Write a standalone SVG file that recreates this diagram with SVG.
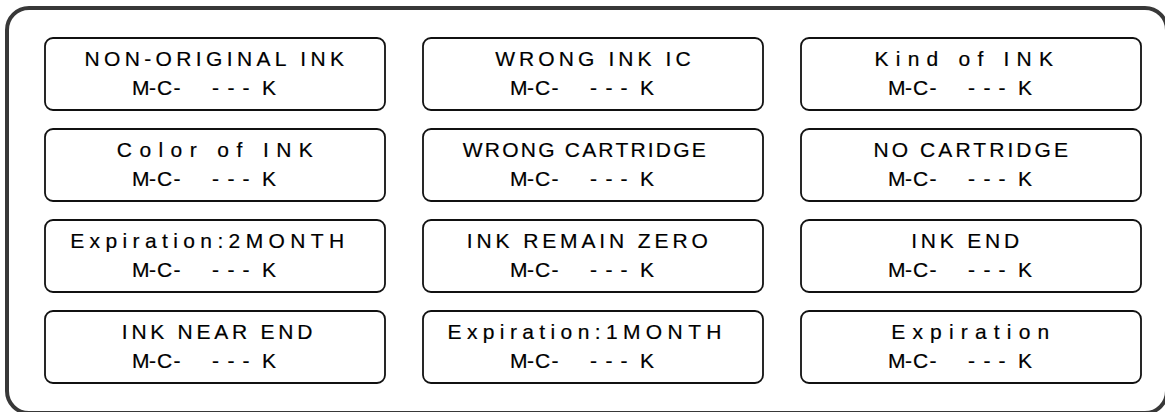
<svg xmlns="http://www.w3.org/2000/svg" width="1165" height="412" viewBox="0 0 1165 412">
<style>
.frame{fill:none;stroke:#383838;stroke-width:4}
.box{fill:#fff;stroke:#111;stroke-width:1.8}
.t{font-family:"Liberation Sans",Arial,sans-serif;font-size:21px;fill:#000;stroke:#000;stroke-width:0.2}
.m{white-space:pre}
</style>
<rect width="1165" height="412" fill="#fff"/>
<rect class="frame" x="7" y="8" width="1160" height="405" rx="22"/>
<g id="connectors"/>
<g id="n1" transform="translate(45,38)"><rect class="box" width="340" height="72" rx="8"/><text class="t" x="39.5" y="28" textLength="259.5" lengthAdjust="spacing">NON-ORIGINAL INK</text><text class="t m" xml:space="preserve" x="87 104 112 128.5 140 152 167 182.5 197.5 217" y="56.5">M-C-  ---K</text></g>
<g id="n2" transform="translate(423,38)"><rect class="box" width="340" height="72" rx="8"/><text class="t" x="72.2" y="28" textLength="195.5" lengthAdjust="spacing">WRONG INK IC</text><text class="t m" xml:space="preserve" x="87 104 112 128.5 140 152 167 182.5 197.5 217" y="56.5">M-C-  ---K</text></g>
<g id="n3" transform="translate(801,38)"><rect class="box" width="340" height="72" rx="8"/><text class="t" x="73.5" y="28" textLength="178.5" lengthAdjust="spacing">Kind of INK</text><text class="t m" xml:space="preserve" x="87 104 112 128.5 140 152 167 182.5 197.5 217" y="56.5">M-C-  ---K</text></g>
<g id="n4" transform="translate(45,129)"><rect class="box" width="340" height="72" rx="8"/><text class="t" x="71.8" y="28" textLength="196" lengthAdjust="spacing">Color of INK</text><text class="t m" xml:space="preserve" x="87 104 112 128.5 140 152 167 182.5 197.5 217" y="56.5">M-C-  ---K</text></g>
<g id="n5" transform="translate(423,129)"><rect class="box" width="340" height="72" rx="8"/><text class="t" x="39.8" y="28" textLength="243" lengthAdjust="spacing">WRONG CARTRIDGE</text><text class="t m" xml:space="preserve" x="87 104 112 128.5 140 152 167 182.5 197.5 217" y="56.5">M-C-  ---K</text></g>
<g id="n6" transform="translate(801,129)"><rect class="box" width="340" height="72" rx="8"/><text class="t" x="72.5" y="28" textLength="194.5" lengthAdjust="spacing">NO CARTRIDGE</text><text class="t m" xml:space="preserve" x="87 104 112 128.5 140 152 167 182.5 197.5 217" y="56.5">M-C-  ---K</text></g>
<g id="n7" transform="translate(45,220)"><rect class="box" width="340" height="72" rx="8"/><text class="t" x="25.2" y="28" textLength="274" lengthAdjust="spacing">Expiration:2MONTH</text><text class="t m" xml:space="preserve" x="87 104 112 128.5 140 152 167 182.5 197.5 217" y="56.5">M-C-  ---K</text></g>
<g id="n8" transform="translate(423,220)"><rect class="box" width="340" height="72" rx="8"/><text class="t" x="43.8" y="28" textLength="241" lengthAdjust="spacing">INK REMAIN ZERO</text><text class="t m" xml:space="preserve" x="87 104 112 128.5 140 152 167 182.5 197.5 217" y="56.5">M-C-  ---K</text></g>
<g id="n9" transform="translate(801,220)"><rect class="box" width="340" height="72" rx="8"/><text class="t" x="110.2" y="28" textLength="108" lengthAdjust="spacing">INK END</text><text class="t m" xml:space="preserve" x="87 104 112 128.5 140 152 167 182.5 197.5 217" y="56.5">M-C-  ---K</text></g>
<g id="n10" transform="translate(45,311)"><rect class="box" width="340" height="72" rx="8"/><text class="t" x="76.8" y="28" textLength="190.5" lengthAdjust="spacing">INK NEAR END</text><text class="t m" xml:space="preserve" x="87 104 112 128.5 140 152 167 182.5 197.5 217" y="56.5">M-C-  ---K</text></g>
<g id="n11" transform="translate(423,311)"><rect class="box" width="340" height="72" rx="8"/><text class="t" x="24.5" y="28" textLength="274" lengthAdjust="spacing">Expiration:1MONTH</text><text class="t m" xml:space="preserve" x="87 104 112 128.5 140 152 167 182.5 197.5 217" y="56.5">M-C-  ---K</text></g>
<g id="n12" transform="translate(801,311)"><rect class="box" width="340" height="72" rx="8"/><text class="t" x="90.2" y="28" textLength="158" lengthAdjust="spacing">Expiration</text><text class="t m" xml:space="preserve" x="87 104 112 128.5 140 152 167 182.5 197.5 217" y="56.5">M-C-  ---K</text></g>
</svg>
